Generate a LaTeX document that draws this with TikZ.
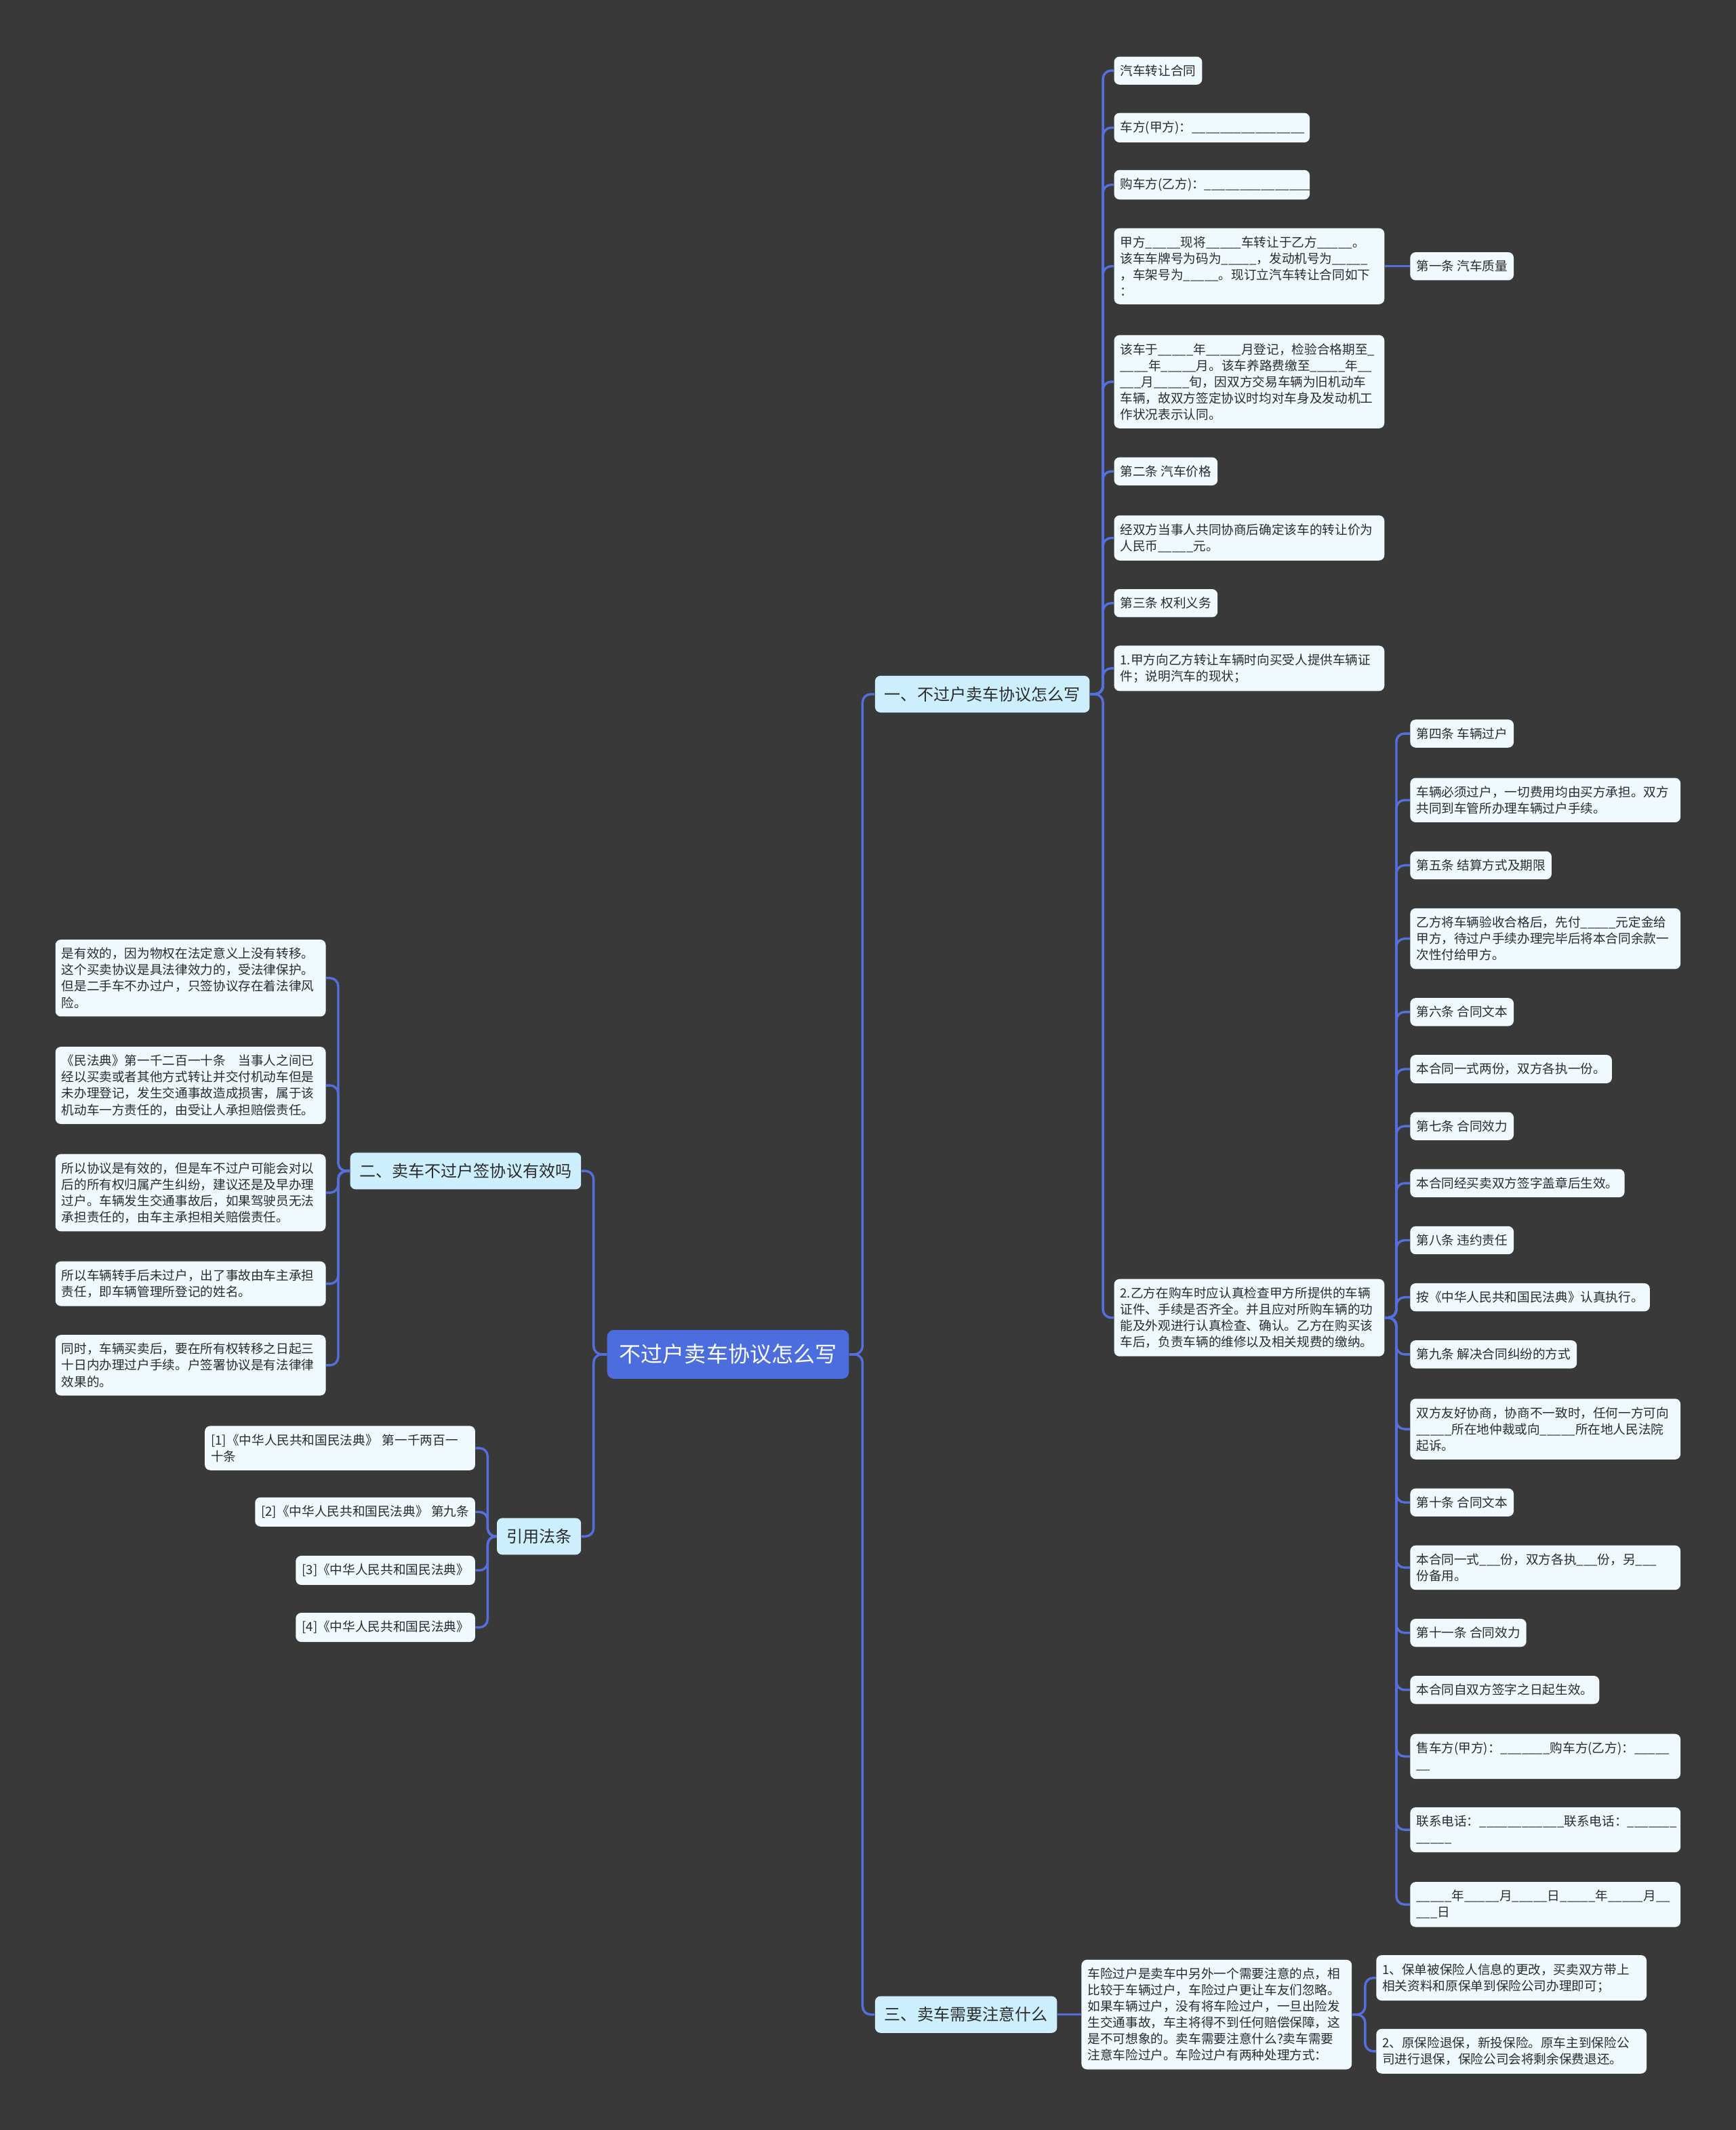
\documentclass[tikz,border=0pt]{standalone}
\usepackage{fontspec}
\setmainfont{Noto Sans CJK SC}
\definecolor{bg}{HTML}{3A393A}
\definecolor{linecol}{HTML}{5570DC}
\definecolor{leaffill}{HTML}{F0FAFE}
\definecolor{branchfill}{HTML}{CDEFFD}
\definecolor{rootfill}{HTML}{4C6DDD}
\definecolor{textdark}{HTML}{2B2B2B}
\begin{document}
\begin{tikzpicture}[x=1pt,y=-1pt,
  leaf/.style={fill=leaffill, rounded corners=4pt, inner xsep=4.5pt, inner ysep=6pt,
    font=\fontsize{9.3}{12}\selectfont, align=left, text=textdark},
  wide/.style={leaf, text width=190pt},
  branch/.style={fill=branchfill, rounded corners=4pt, inner xsep=7pt, minimum height=27pt,
    font=\fontsize{12}{14}\selectfont, text=textdark},
  rootbox/.style={fill=rootfill, rounded corners=5pt, inner xsep=9pt, minimum height=36pt,
    font=\fontsize{16}{18}\selectfont, text=white},
  conn/.style={draw=linecol, line width=1.7pt, rounded corners=6pt}]
\useasboundingbox (0,0) rectangle (1278,1568);
\fill[bg] (0,0) rectangle (1278,1568);

% root
\node[rootbox] (root) at (536,997) {不过户卖车协议怎么写};

% branches
\node[branch, anchor=west] (b1) at (644,511) {一、不过户卖车协议怎么写};
\node[branch, anchor=east] (b2) at (428,862) {二、卖车不过户签协议有效吗};
\node[branch, anchor=east] (b3) at (428,1131) {引用法条};
\node[branch, anchor=west] (b4) at (644,1483) {三、卖车需要注意什么};

\coordinate (rr) at (635,997);
\coordinate (rl) at (437,997);
\draw[conn] (root.east) -- (rr) |- (b1.west);
\draw[conn] (root.east) -- (rr) |- (b4.west);
\draw[conn] (root.west) -- (rl) |- (b2.east);
\draw[conn] (root.west) -- (rl) |- (b3.east);

% branch 1 children
\node[leaf, anchor=west] (c1) at (820,52) {汽车转让合同};
\node[wide, text width=135pt, anchor=west] (c2) at (820,94) {车方(甲方)：\_\_\_\_\_\_\_\_\_\_\_\_\_\_\_\_};
\node[wide, text width=135pt, anchor=west] (c3) at (820,136) {购车方(乙方)：\_\_\_\_\_\_\_\_\_\_\_\_\_\_\_};
\node[wide, anchor=west] (c4) at (820,196) {甲方\_\_\_\_\_现将\_\_\_\_\_车转让于乙方\_\_\_\_\_。\\该车车牌号为码为\_\_\_\_\_，发动机号为\_\_\_\_\_\\，车架号为\_\_\_\_\_。现订立汽车转让合同如下\\：};
\node[leaf, anchor=west] (a1) at (1038,196) {第一条 汽车质量};
\node[wide, anchor=west] (c5) at (820,281) {该车于\_\_\_\_\_年\_\_\_\_\_月登记，检验合格期至\_\\\_\_\_\_年\_\_\_\_\_月。该车养路费缴至\_\_\_\_\_年\_\_\\\_\_\_月\_\_\_\_\_旬，因双方交易车辆为旧机动车\\车辆，故双方签定协议时均对车身及发动机工\\作状况表示认同。};
\node[leaf, anchor=west] (c6) at (820,347) {第二条 汽车价格};
\node[wide, anchor=west] (c7) at (820,396) {经双方当事人共同协商后确定该车的转让价为\\人民币\_\_\_\_\_元。};
\node[leaf, anchor=west] (c8) at (820,444) {第三条 权利义务};
\node[wide, anchor=west] (c9) at (820,492) {1.甲方向乙方转让车辆时向买受人提供车辆证\\件；说明汽车的现状；};
\node[wide, anchor=west] (c10) at (820,970) {2.乙方在购车时应认真检查甲方所提供的车辆\\证件、手续是否齐全。并且应对所购车辆的功\\能及外观进行认真检查、确认。乙方在购买该\\车后，负责车辆的维修以及相关规费的缴纳。};

\coordinate (s1) at (812,511);
\foreach \n in {c1,c2,c3,c4,c5,c6,c7,c8,c9,c10}
  \draw[conn] (b1.east) -- (s1) |- (\n.west);
\draw[conn] (c4.east) -- (a1.west);

% children of c10
\node[leaf, anchor=west] (d1) at (1038,540) {第四条 车辆过户};
\node[wide, anchor=west] (d2) at (1038,589) {车辆必须过户，一切费用均由买方承担。双方\\共同到车管所办理车辆过户手续。};
\node[leaf, anchor=west] (d3) at (1038,637) {第五条 结算方式及期限};
\node[wide, anchor=west] (d4) at (1038,691) {乙方将车辆验收合格后，先付\_\_\_\_\_元定金给\\甲方，待过户手续办理完毕后将本合同余款一\\次性付给甲方。};
\node[leaf, anchor=west] (d5) at (1038,745) {第六条 合同文本};
\node[leaf, anchor=west] (d6) at (1038,787) {本合同一式两份，双方各执一份。};
\node[leaf, anchor=west] (d7) at (1038,829) {第七条 合同效力};
\node[leaf, anchor=west] (d8) at (1038,871) {本合同经买卖双方签字盖章后生效。};
\node[leaf, anchor=west] (d9) at (1038,913) {第八条 违约责任};
\node[leaf, anchor=west] (d10) at (1038,955) {按《中华人民共和国民法典》认真执行。};
\node[leaf, anchor=west] (d11) at (1038,997) {第九条 解决合同纠纷的方式};
\node[wide, anchor=west] (d12) at (1038,1052) {双方友好协商，协商不一致时，任何一方可向\\\_\_\_\_\_所在地仲裁或向\_\_\_\_\_所在地人民法院\\起诉。};
\node[leaf, anchor=west] (d13) at (1038,1106) {第十条 合同文本};
\node[wide, anchor=west] (d14) at (1038,1154) {本合同一式\_\_\_份，双方各执\_\_\_份，另\_\_\_\\份备用。};
\node[leaf, anchor=west] (d15) at (1038,1202) {第十一条 合同效力};
\node[leaf, anchor=west] (d16) at (1038,1244) {本合同自双方签字之日起生效。};
\node[wide, anchor=west] (d17) at (1038,1293) {售车方(甲方)：\_\_\_\_\_\_\_购车方(乙方)：\_\_\_\_\_\\\_\_};
\node[wide, anchor=west] (d18) at (1038,1347) {联系电话：\_\_\_\_\_\_\_\_\_\_\_\_联系电话：\_\_\_\_\_\_\_\\\_\_\_\_\_};
\node[wide, anchor=west] (d19) at (1038,1402) {\_\_\_\_\_年\_\_\_\_\_月\_\_\_\_\_日\_\_\_\_\_年\_\_\_\_\_月\_\_\\\_\_\_日};

\coordinate (s10) at (1028,970);
\foreach \n in {d1,d2,d3,d4,d5,d6,d7,d8,d9,d10,d11,d12,d13,d14,d15,d16,d17,d18,d19}
  \draw[conn] (c10.east) -- (s10) |- (\n.west);

% branch 2 children
\node[wide, anchor=east] (e1) at (240,720) {是有效的，因为物权在法定意义上没有转移。\\这个买卖协议是具法律效力的，受法律保护。\\但是二手车不办过户，只签协议存在着法律风\\险。};
\node[wide, anchor=east] (e2) at (240,799) {《民法典》第一千二百一十条　当事人之间已\\经以买卖或者其他方式转让并交付机动车但是\\未办理登记，发生交通事故造成损害，属于该\\机动车一方责任的，由受让人承担赔偿责任。};
\node[wide, anchor=east] (e3) at (240,878) {所以协议是有效的，但是车不过户可能会对以\\后的所有权归属产生纠纷，建议还是及早办理\\过户。车辆发生交通事故后，如果驾驶员无法\\承担责任的，由车主承担相关赔偿责任。};
\node[wide, anchor=east] (e4) at (240,945) {所以车辆转手后未过户，出了事故由车主承担\\责任，即车辆管理所登记的姓名。};
\node[wide, anchor=east] (e5) at (240,1005) {同时，车辆买卖后，要在所有权转移之日起三\\十日内办理过户手续。户签署协议是有法律律\\效果的。};

\coordinate (s2) at (249,862);
\foreach \n in {e1,e2,e3,e4,e5}
  \draw[conn] (b2.west) -- (s2) |- (\n.east);

% citations
\node[wide, anchor=east] (f1) at (350,1066) {[1]《中华人民共和国民法典》 第一千两百一\\十条};
\node[leaf, anchor=east] (f2) at (350,1113) {[2]《中华人民共和国民法典》 第九条};
\node[leaf, anchor=east] (f3) at (350,1156) {[3]《中华人民共和国民法典》};
\node[leaf, anchor=east] (f4) at (350,1198) {[4]《中华人民共和国民法典》};

\coordinate (s3) at (359,1131);
\foreach \n in {f1,f2,f3,f4}
  \draw[conn] (b3.west) -- (s3) |- (\n.east);

% branch 4 children
\node[wide, anchor=west] (g1) at (796,1483) {车险过户是卖车中另外一个需要注意的点，相\\比较于车辆过户，车险过户更让车友们忽略。\\如果车辆过户，没有将车险过户，一旦出险发\\生交通事故，车主将得不到任何赔偿保障，这\\是不可想象的。卖车需要注意什么?卖车需要\\注意车险过户。车险过户有两种处理方式：};
\draw[conn] (b4.east) -- (g1.west);
\node[wide, anchor=west] (h1) at (1013,1456) {1、保单被保险人信息的更改，买卖双方带上\\相关资料和原保单到保险公司办理即可；};
\node[wide, anchor=west] (h2) at (1013,1510) {2、原保险退保，新投保险。原车主到保险公\\司进行退保，保险公司会将剩余保费退还。};
\coordinate (s4) at (1005,1483);
\foreach \n in {h1,h2}
  \draw[conn] (g1.east) -- (s4) |- (\n.west);
\end{tikzpicture}
\end{document}
